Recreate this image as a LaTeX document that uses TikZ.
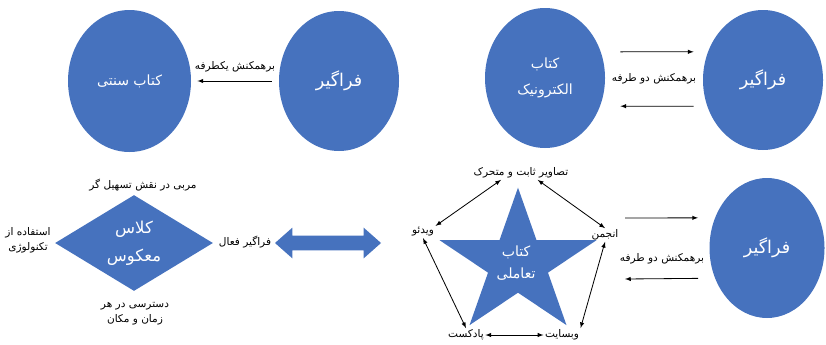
\documentclass[tikz,border=0pt]{standalone}
\usepackage{fontspec}
\usetikzlibrary{shapes.geometric,shapes.arrows}
\newfontfamily\fafont[Script=Arabic]{DejaVu Sans}
\TeXXeTstate=1
\newcommand{\rl}[1]{\beginR #1\endR}
\definecolor{fillblue}{RGB}{70,114,190}
\tikzset{
  blob/.style={ellipse, fill=fillblue, text=white, inner sep=0pt, minimum width=3.6cm, minimum height=4.2cm, align=center},
  lbl/.style={font=\fafont\fontsize{9}{13}\selectfont, inner sep=1pt, align=center},
  big/.style={font=\fafont\fontsize{15}{18}\selectfont},
  mid/.style={font=\fafont\fontsize{12}{22}\selectfont},
}

\begin{document}
\begin{tikzpicture}[>=latex, line width=0.7pt]
        \useasboundingbox (0, 0) rectangle (24.78, 10.32);
        \node [blob, mid, minimum width=3.69cm, minimum height=4.26cm] (sonnati) at (3.885, 7.89) {\rl{کتاب سنتی}};
        \node [blob, big] (learnerA) at (10.17, 7.89) {\rl{فراگیر}};
        \node [blob, mid] (elec) at (16.35, 7.98) {\rl{کتاب}\\\rl{الکترونیک}};
        \node [blob, big] (learnerB) at (22.89, 7.92) {\rl{فراگیر}};
        \node [blob, big, minimum width=3.45cm] (learnerC) at (23.01, 2.88) {\rl{فراگیر}};
        \draw [->, shorten <=0.2cm, shorten >=0.18cm] (learnerA) -- node [lbl, above=6pt] {\rl{برهمکنش یکطرفه}} (sonnati);
        \draw [->, shorten <=0.58cm, shorten >=0.42cm] (elec.25) -- (learnerB.153);
        \draw [->, shorten <=0.4cm, shorten >=0.6cm] (learnerB.-155) -- (elec.-27);
        \path (elec) -- node [lbl] {\rl{برهمکنش دو طرفه}} (learnerB);
        \node [diamond, fill=fillblue, text=white, aspect=1.65, minimum width=4.74cm, minimum height=2.88cm, inner sep=0pt, align=center, font=\fafont\fontsize{14}{24}\selectfont] (flipped) at (4.02, 3.03) {\rl{کلاس}\\\rl{معکوس}};
        \node [lbl] (coach) at (4.29, 4.77) {\rl{مربی در نقش تسهیل گر}};
        \node [lbl] (tech) at (0.84, 3.12) {\rl{استفاده از}\\\rl{تکنولوژی}};
        \node [lbl] (access) at (4.05, 0.9) {\rl{دسترسی در هر}\\\rl{زمان و مکان}};
        \node [lbl] (active) at (7.35, 3.06) {\rl{فراگیر فعال}};
        \node [double arrow, fill=fillblue, minimum height=3.18cm, inner sep=0.21cm, double arrow head extend=0.24cm, double arrow tip angle=83] (link) at (9.84, 3.03) {};
        \fill [fillblue, shift={(15.54, 2.41)}, xscale=2.475, yscale=2.28] (90:1) -- (126:0.382) -- (162:1) -- (198:0.382) -- (234:1) -- (270:0.382) -- (306:1) -- (342:0.382) -- (18:1) -- (54:0.382) -- cycle;
        \node [text=white, align=center, font=\fafont\fontsize{12}{19}\selectfont] (interactive) at (15.48, 2.43) {\rl{کتاب}\\\rl{تعاملی}};
        \node [lbl] (images) at (15.63, 5.13) {\rl{تصاویر ثابت و متحرک}};
        \node [lbl] (forum) at (18.15, 3.27) {\rl{انجمن}};
        \node [lbl] (video) at (12.69, 3.36) {\rl{ویدئو}};
        \node [lbl] (podcast) at (13.98, 0.27) {\rl{پادکست}};
        \node [lbl] (website) at (16.86, 0.27) {\rl{وبسایت}};
        \draw [<->] ([xshift=-0.6cm]images.south) -- (video.north east);
        \draw [<->] ([xshift=0.5cm]images.south) -- (forum.north);
        \draw [<->] (forum.south) -- (website.north east);
        \draw [<->] (website.west) -- (podcast.east);
        \draw [<->] (podcast.north) -- (video.south);
        \coordinate (outA) at (18.75, 3.78);
        \coordinate (inA) at (18.75, 1.95);
        \draw [->, shorten >=0.5cm] (outA) -- (learnerC.150);
        \draw [->, shorten <=0.5cm] (learnerC.210) -- (inA);
        \node [lbl] (twoway) at (19.86, 2.55) {\rl{برهمکنش دو طرفه}};
\end{tikzpicture}
\end{document}
